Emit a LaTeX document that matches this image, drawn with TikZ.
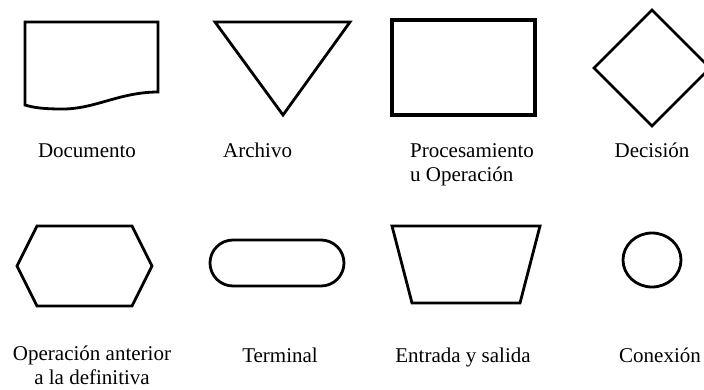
\documentclass[tikz,border=0pt]{standalone}
\usepackage{fontspec}
\setmainfont{Liberation Serif}
\tikzset{
	sym/.style={line width=2.8pt, line join=miter},
	lbl/.style={font=\fontsize{21}{24}\selectfont, inner sep=0pt, anchor=base},
}
\begin{document}
\begin{tikzpicture}[x=1pt, y=-1pt]
	\useasboundingbox (0,0) rectangle (704,389);
	\draw[sym] (25,105) -- (25,22) -- (158,22) -- (158,92) .. controls (120,92) and (95,109) .. (63,109) .. controls (45,109) and (35,108) .. (25,105) -- cycle;
	\draw[sym] (215,22) -- (350,22) -- (283,115) -- cycle;
	\draw[sym, line width=4pt] (392,20) rectangle (535,115);
	\draw[sym] (652,10) -- (710,68) -- (652,126) -- (594,68) -- cycle;
	\draw[sym] (37,226) -- (132,226) -- (152,266) -- (132,306) -- (37,306) -- (17,266) -- cycle;
	\draw[sym, rounded corners=23pt] (210,240) rectangle (344,286);
	\draw[sym] (392,226) -- (540,226) -- (520,303) -- (412,303) -- cycle;
	\draw[sym] (652,260) ellipse [x radius=29pt, y radius=27pt];
	\node[lbl] (documento) at (87,157) {Documento};
	\node[lbl, anchor=base west] (archivo) at (223,157) {Archivo};
	\node[lbl, anchor=base west, align=left] (procesamiento) at (410,181) {Procesamiento\\u Operación};
	\node[lbl] (decision) at (652,157) {Decisión};
	\node[lbl, align=center] (anterior) at (92,384) {Operación anterior\\a la definitiva};
	\node[lbl] (terminal) at (280,362) {Terminal};
	\node[lbl] (entrada) at (463,362) {Entrada y salida};
	\node[lbl] (conexion) at (660,362) {Conexión};
\end{tikzpicture}
\end{document}
